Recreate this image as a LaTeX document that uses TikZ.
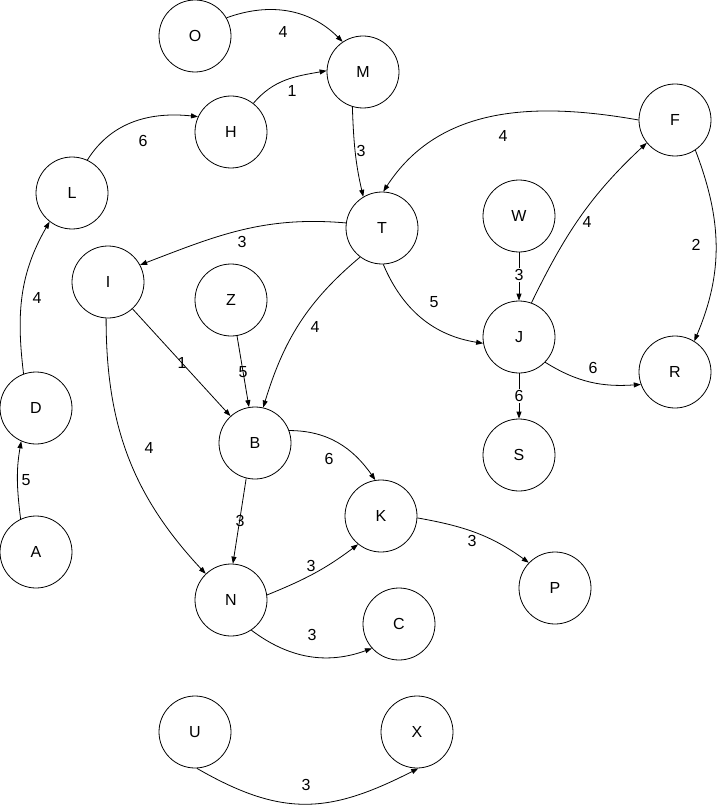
\documentclass[tikz,border=0pt]{standalone}
\usepackage{fontspec}
\setmainfont{Liberation Sans}
\usetikzlibrary{arrows.meta}
\begin{document}
\begin{tikzpicture}[x=1pt,y=1pt,
  vert/.style={circle,draw,line width=0.8pt,minimum size=72pt,inner sep=0pt,font=\fontsize{16}{18}\selectfont},
  edge/.style={line width=0.8pt,-{Triangle[length=7pt,width=5pt]}},
  lbl/.style={inner sep=0.5pt,font=\fontsize{16}{18}\selectfont},
  lblw/.style={lbl,fill=white,inner sep=1pt}]
\useasboundingbox (0,0) rectangle (718,-805);
\node[vert] (O) at (195,-36) {O};
\node[vert] (M) at (363,-72) {M};
\node[vert] (H) at (231,-132) {H};
\node[vert] (F) at (675,-120) {F};
\node[vert] (L) at (72,-193) {L};
\node[vert] (T) at (382,-228) {T};
\node[vert] (W) at (519,-216) {W};
\node[vert] (I) at (108,-282) {I};
\node[vert] (Z) at (231,-300) {Z};
\node[vert] (J) at (519,-337) {J};
\node[vert] (R) at (675,-372) {R};
\node[vert] (D) at (36,-408) {D};
\node[vert] (B) at (255,-443) {B};
\node[vert] (S) at (519,-455) {S};
\node[vert] (K) at (381,-516) {K};
\node[vert] (A) at (36,-552) {A};
\node[vert] (P) at (555,-588) {P};
\node[vert] (N) at (231,-600) {N};
\node[vert] (C) at (399,-624) {C};
\node[vert] (U) at (195,-732) {U};
\node[vert] (X) at (417,-732) {X};

\draw[edge] (O.30) to[out=20,in=135] (M.124);
\draw[edge] (H.52) to[out=50,in=190] (M.178);
\draw[edge] (L.65) to[out=58,in=174] (H.155);
\draw[edge] (M.253) to[out=-88,in=103] (T.121);
\draw[edge] (F.180) to[out=170,in=57] (T.88);
\draw[edge] (F.-56) to[out=-69,in=67] (R.58);
\draw[edge] (T.172) to[out=175,in=21] (I.28);
\draw[edge] (T.233) to[out=220,in=73] (B.77);
\draw[edge] (T.-88) to[out=-67,in=171] (J.190);
\draw[edge] (W) -- (J);
\draw[edge] (J.70) to[out=64,in=223] (F.219);
\draw[edge] (J.-44) to[out=-32,in=184] (R.200);
\draw[edge] (J) -- (S);
\draw[edge] (I) -- (B);
\draw[edge] (I.-93) to[out=-90,in=133] (N.134);
\draw[edge] (Z) -- (B);
\draw[edge] (B.20) to[out=0,in=125] (K.99);
\draw[edge] (B.-104) -- (N.87);
\draw[edge] (N.8) to[out=22,in=217] (K.231);
\draw[edge] (N.-56) to[out=-37,in=200] (C.222);
\draw[edge] (K.-3) to[out=-10,in=144] (P.136);
\draw[edge] (D.110) to[out=97,in=240] (L.232);
\draw[edge] (A.115) to[out=97,in=260] (D.246);
\draw[edge] (U.-87) to[out=-30,in=207,looseness=1.15] (X.-88);

\node[lbl] (lOM) at (283,-32) {4};
\node[lbl] (lHM) at (292,-91) {1};
\node[lbl] (lLH) at (143,-141) {6};
\node[lbl] (lMT) at (361,-151) {3};
\node[lbl] (lFT) at (503,-136) {4};
\node[lbl] (lFR) at (696,-245) {2};
\node[lbl] (lTI) at (242,-242) {3};
\node[lbl] (lTB) at (315,-327) {4};
\node[lbl] (lTJ) at (434,-302) {5};
\node[lblw] (lWJ) at (519,-275) {3};
\node[lbl] (lJF) at (587,-222) {4};
\node[lbl] (lJR) at (593,-368) {6};
\node[lblw] (lJS) at (519,-396) {6};
\node[lbl] (lIB) at (182,-363) {1};
\node[lbl] (lIN) at (149,-448) {4};
\node[lbl] (lZB) at (243,-372) {5};
\node[lbl] (lBK) at (329,-459) {6};
\node[lbl] (lBN) at (240,-521) {3};
\node[lbl] (lNK) at (311,-566) {3};
\node[lbl] (lNC) at (312,-635) {3};
\node[lbl] (lKP) at (472,-541) {3};
\node[lbl] (lDL) at (37,-298) {4};
\node[lbl] (lAD) at (26,-480) {5};
\node[lbl] (lUX) at (306,-785) {3};
\end{tikzpicture}
\end{document}
